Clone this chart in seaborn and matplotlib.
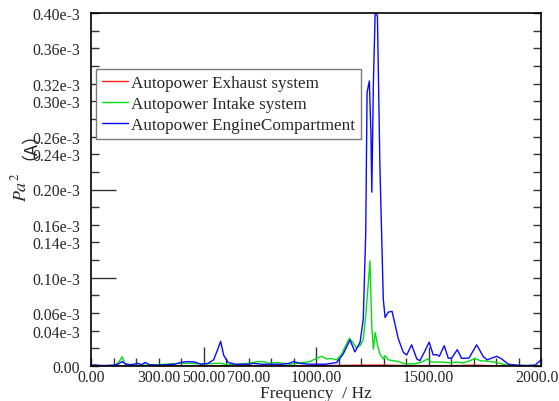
import numpy as np
import pandas as pd
import matplotlib
matplotlib.use("Agg")
import matplotlib.pyplot as plt
import seaborn as sns

# spectrum, values in units of 1e-3 Pa^2
blue_freq = [0, 60, 100, 120, 138, 155, 180, 209, 225, 241, 260, 300, 370, 400, 430, 460,
             490, 520, 545, 565, 576, 590, 610, 640, 700, 720, 760, 800, 850, 880, 900, 930,
             970, 1000, 1040, 1070, 1092, 1121, 1151, 1173, 1196, 1210, 1221, 1227, 1237,
             1244, 1248, 1255, 1263, 1273, 1284, 1299, 1307, 1321, 1338, 1366, 1388, 1403,
             1425, 1448, 1462, 1480, 1503, 1521, 1535, 1548, 1570, 1588, 1603, 1628, 1647,
             1680, 1714, 1744, 1761, 1803, 1825, 1855, 1892, 1936, 1973, 1992, 2000]
blue_val = [0.001, 0.0005, 0.001, 0.002, 0.005, 0.002, 0.0015, 0.003, 0.0015, 0.004, 0.0015,
            0.001, 0.002, 0.004, 0.005, 0.0045, 0.002, 0.003, 0.007, 0.02, 0.028, 0.012, 0.004,
            0.002, 0.002, 0.003, 0.002, 0.002, 0.002, 0.003, 0.005, 0.003, 0.002, 0.002, 0.002,
            0.003, 0.004, 0.0136, 0.0295, 0.016, 0.027, 0.053, 0.15, 0.31, 0.323, 0.265, 0.197,
            0.32, 0.401, 0.397, 0.227, 0.076, 0.055, 0.061, 0.062, 0.0306, 0.0155, 0.0125,
            0.024, 0.008, 0.006, 0.015, 0.027, 0.0125, 0.013, 0.011, 0.023, 0.0087, 0.009,
            0.0185, 0.0087, 0.009, 0.024, 0.0105, 0.007, 0.011, 0.008, 0.002, 0.001, 0.0005,
            0.001, 0.005, 0.007]

green_freq = [0, 90, 110, 125, 139, 150, 170, 250, 300, 400, 450, 500, 550, 575, 600, 650,
              700, 742, 764, 796, 825, 855, 884, 914, 944, 973, 1003, 1025, 1047, 1070, 1092,
              1114, 1148, 1163, 1178, 1196, 1210, 1222, 1240, 1248, 1255, 1263, 1274, 1284,
              1299, 1307, 1321, 1344, 1366, 1396, 1440, 1470, 1496, 1514, 1560, 1596, 1625,
              1655, 1684, 1707, 1729, 1760, 1803, 1847, 1900, 2000]
green_val = [0.0, 0.0, 0.001, 0.005, 0.0105, 0.003, 0.001, 0.001, 0.0015, 0.003, 0.003,
             0.002, 0.003, 0.0032, 0.0015, 0.002, 0.003, 0.005, 0.005, 0.003, 0.004, 0.003,
             0.002, 0.003, 0.004, 0.005, 0.0087, 0.011, 0.008, 0.0085, 0.0068, 0.0136, 0.0314,
             0.027, 0.021, 0.023, 0.03, 0.06, 0.119, 0.044, 0.019, 0.038, 0.023, 0.0136, 0.008,
             0.0117, 0.007, 0.006, 0.005, 0.0023, 0.0025, 0.0045, 0.008, 0.0045, 0.0045,
             0.0035, 0.0045, 0.0035, 0.006, 0.0087, 0.006, 0.0055, 0.004, 0.001, 0.0005, 0.0005]

red_freq = [0, 15, 30, 45, 200, 500, 900, 1100, 1200, 1300, 1400, 1600, 1700, 1800, 2000]
red_val = [0.0, 0.0012, 0.0008, 0.0001, 0.0002, 0.0002, 0.0003, 0.0006, 0.001, 0.001,
           0.0005, 0.0004, 0.0009, 0.0003, 0.0001]

names = ["Autopower Exhaust system", "Autopower Intake system", "Autopower EngineCompartment"]
colors = {names[0]: "#ff1a1a", names[1]: "#00e010", names[2]: "#0a0aff"}

ytick_vals = [0.40, 0.36, 0.32, 0.30, 0.26, 0.24, 0.20, 0.16, 0.14, 0.10, 0.06, 0.04, 0.00]
xtick_vals = [0, 300, 500, 700, 1000, 1500, 2000]

df = pd.concat([
    pd.DataFrame({"f": red_freq, "v": np.array(red_val) * 1e-3, "s": names[0]}),
    pd.DataFrame({"f": green_freq, "v": np.array(green_val) * 1e-3, "s": names[1]}),
    pd.DataFrame({"f": blue_freq, "v": np.array(blue_val) * 1e-3, "s": names[2]}),
])

sns.set_style("ticks")
plt.rcParams["font.family"] = ["Liberation Serif", "Noto Sans CJK SC"]
plt.rcParams["mathtext.fontset"] = "stix"

fig = plt.figure(figsize=(5.59, 4.02), dpi=100)
ax = fig.add_axes([91 / 559, 35 / 402, 450 / 559, 353 / 402])

sns.lineplot(data=df, x="f", y="v", hue="s", palette=colors, estimator=None,
             linewidth=1.0, ax=ax, legend=True)

ax.set_xlim(0, 2000)
ax.set_ylim(0, 0.40e-3)

# every 0.02e-3 gets a tick, only some get a label
yt = np.round(np.arange(0, 0.41, 0.02), 2)
ax.set_yticks(yt * 1e-3)
ax.set_yticklabels(["0.00" if v == 0 else (f"{v:.2f}e-3" if v in ytick_vals else "") for v in yt])

xt = np.arange(0, 2001, 100)
ax.set_xticks(xt)
ax.set_xticklabels([f"{v:.2f}" if v in xtick_vals else "" for v in xt])

ax.tick_params(axis="y", direction="in", length=6, width=1, color="#333333",
               right=True, labelsize=11.3, pad=8)
ax.tick_params(axis="x", direction="in", length=6, width=1, color="#333333",
               top=False, labelsize=11.3, pad=2.5)

# a few longer marks, as in the original
for v, t in zip(yt, ax.yaxis.get_major_ticks()):
    if v in (0.10, 0.20):
        t.tick1line.set_markersize(18)
for v, t in zip(xt, ax.xaxis.get_major_ticks()):
    if v in (500, 1000, 1500):
        t.tick1line.set_markersize(14)

for sp in ax.spines.values():
    sp.set_linewidth(1.2)
    sp.set_color("black")

ax.set_xlabel("Frequency  / Hz", fontsize=12.5)
ax.xaxis.set_label_coords(0.5, -(394 - 367) / 353)
ax.xaxis.label.set_va("center")

# y label in two pieces so the full-width brackets come from a CJK font
ax.set_ylabel("")
fig.text(20 / 559, 1 - 187 / 402, "$Pa^2$", rotation=90, ha="center", va="center",
         fontsize=13)
fig.text(21 / 559, 1 - 136 / 402, "（A）", rotation=90, ha="center", va="center",
         fontsize=13, family=["Noto Sans CJK SC"])

handles, labels = ax.get_legend_handles_labels()
leg = ax.legend(handles, labels, loc="upper left", bbox_to_anchor=(0.011, 0.841),
                borderaxespad=0, fontsize=12.3, handlelength=1.55, handletextpad=0.15,
                labelspacing=0.3, borderpad=0.35, fancybox=False, framealpha=1,
                edgecolor="#7a7a7a")
leg.get_frame().set_linewidth(1.0)

fig.savefig("out.png", dpi=100)
